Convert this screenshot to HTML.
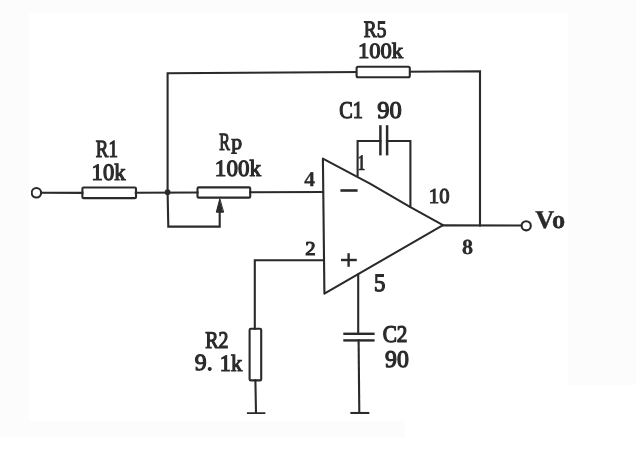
<!DOCTYPE html>
<html><head><meta charset="utf-8"><style>
html,body{margin:0;padding:0;background:#fff;}
svg{display:block;}
</style></head><body>
<svg width="636" height="455" viewBox="0 0 636 455">
<defs><filter id="b" x="0" y="0" width="100%" height="100%"><feGaussianBlur stdDeviation="0.35"/></filter></defs>
<rect x="0" y="0" width="636" height="455" fill="#ffffff"/>
<path d="M0,0 H636 V385 H568.5 V14 H29 V421.5 H405 V438 H0 Z" fill="#fcfcfc"/>
<g filter="url(#b)">
<g fill="none" stroke="#2a2a2a" stroke-width="2.1" stroke-linecap="square" stroke-linejoin="miter">
<polyline points="167.6,192.5 167.6,73.3 480,71.2 480,225.4" />
<circle cx="36.4" cy="192.8" r="4.75" />
<line x1="41.2" y1="192.8" x2="82.4" y2="192.9" />
<rect x="82.4" y="187.5" width="53.6" height="10.6" rx="1.2"/>
<line x1="135.8" y1="192.8" x2="197.5" y2="192.5" />
<circle cx="167.6" cy="192.2" r="2.9" fill="#2a2a2a" stroke="none"/>
<rect x="197.5" y="187.4" width="52.7" height="10.2" rx="1.2"/>
<line x1="250.2" y1="192.3" x2="323" y2="192" />
<polyline points="167.6,192.5 168.3,226.6 219.7,226.6 219.7,210" />
<polygon points="219.7,199.2 216.3,212.2 223.2,212.2" fill="#2a2a2a" stroke-width="1"/>
<rect x="356.6" y="66.8" width="53.2" height="10.5" rx="1.5" fill="#fff"/>
<polygon points="322.9,158.6 370,183.6 410.4,207.2 443,225.1 324.4,293.6" stroke-linejoin="round"/>
<line x1="340.4" y1="190.5" x2="357.6" y2="190.5" stroke-width="2.6" stroke-linecap="butt"/>
<line x1="341" y1="260" x2="356.8" y2="260" stroke-width="2.4" stroke-linecap="butt"/>
<line x1="348.6" y1="253.2" x2="348.6" y2="266.8" stroke-width="2.4" stroke-linecap="butt"/>
<polyline points="357.6,175.5 357.6,141 380.4,141" />
<polyline points="387,141 410.4,141 410.4,207" />
<line x1="380.4" y1="125.2" x2="380.4" y2="155.4" stroke-width="2.5" stroke-linecap="butt"/>
<line x1="387.1" y1="125.2" x2="387.1" y2="155.4" stroke-width="2.5" stroke-linecap="butt"/>
<line x1="443" y1="225.4" x2="521" y2="225.5" />
<circle cx="526.2" cy="225.8" r="4.6" />
<polyline points="323.5,260.2 254.8,260.2 254.8,328.8" />
<rect x="249.6" y="328.8" width="11.6" height="51.6" rx="1.2"/>
<line x1="255.4" y1="380.4" x2="256" y2="413.3" />
<line x1="248" y1="413.3" x2="264.3" y2="413.3" />
<line x1="358.2" y1="274.5" x2="358.2" y2="333.8" />
<line x1="343.3" y1="333.8" x2="374.6" y2="333.8" stroke-width="2.4" stroke-linecap="butt"/>
<line x1="343.3" y1="340.4" x2="374.6" y2="340.4" stroke-width="2.4" stroke-linecap="butt"/>
<line x1="358.6" y1="340.4" x2="359.3" y2="413" />
<line x1="351.4" y1="413" x2="368.3" y2="413" />
</g>
<g fill="#2a2a2a" stroke="#2a2a2a" stroke-width="0.3" font-family="Liberation Serif, serif" font-size="20.0" text-rendering="geometricPrecision">
<text transform="translate(363.84 37.47) scale(0.9698 1.1708)" stroke-width="1.0">R5</text>
<text transform="translate(357.96 57.61) scale(1.1303 1.0942)" stroke-width="1.0">100k</text>
<text transform="translate(95.79 157.18) scale(0.9438 1.2285)" stroke-width="1.0">R1</text>
<text transform="translate(91.62 179.87) scale(1.1270 1.1737)" stroke-width="1.0">10k</text>
<text transform="translate(219.24 149.67) scale(0.8007 1.2358)" stroke-width="1.0">R</text>
<text transform="translate(231.36 148.71) scale(1.0819 1.0672)" stroke-width="1.0">p</text>
<text transform="translate(214.87 176.16) scale(1.1514 1.1589)" stroke-width="1.0">100k</text>
<text transform="translate(339.35 118.01) scale(1.0127 1.2101)" stroke-width="1.0">C1</text>
<text transform="translate(377.16 117.86) scale(1.2243 1.2018)" stroke-width="1.0">90</text>
<text transform="translate(357.57 169.52) scale(0.7862 1.1196)" stroke-width="0.3" font-weight="bold">1</text>
<text transform="translate(304.33 186.12) scale(1.0670 1.0457)" stroke-width="0.3" font-weight="bold">4</text>
<text transform="translate(428.85 203.45) scale(1.0366 1.0619)" stroke-width="1.0">10</text>
<text transform="translate(305.34 255.02) scale(1.0360 0.9831)" stroke-width="1.1">2</text>
<text transform="translate(462.04 254.11) scale(1.1075 1.0707)" stroke-width="0.3" font-weight="bold">8</text>
<text transform="translate(373.99 290.79) scale(1.1445 1.2547)" stroke-width="1.0">5</text>
<text transform="translate(535.31 227.94) scale(1.3153 1.2893)" stroke-width="0.3" font-weight="bold">Vo</text>
<text transform="translate(205.17 347.89) scale(0.9935 1.2018)" stroke-width="1.0">R2</text>
<text transform="translate(194.75 369.76) scale(1.1880 1.1589)" stroke-width="1.0">9.</text>
<text transform="translate(219.66 370.54) scale(1.1222 1.1713)" stroke-width="1.0">1k</text>
<text transform="translate(382.64 342.03) scale(1.0638 1.1967)" stroke-width="1.0">C2</text>
<text transform="translate(385.12 367.10) scale(1.1928 1.1947)" stroke-width="1.0">90</text>
</g>
</g>
</svg>
</body></html>
